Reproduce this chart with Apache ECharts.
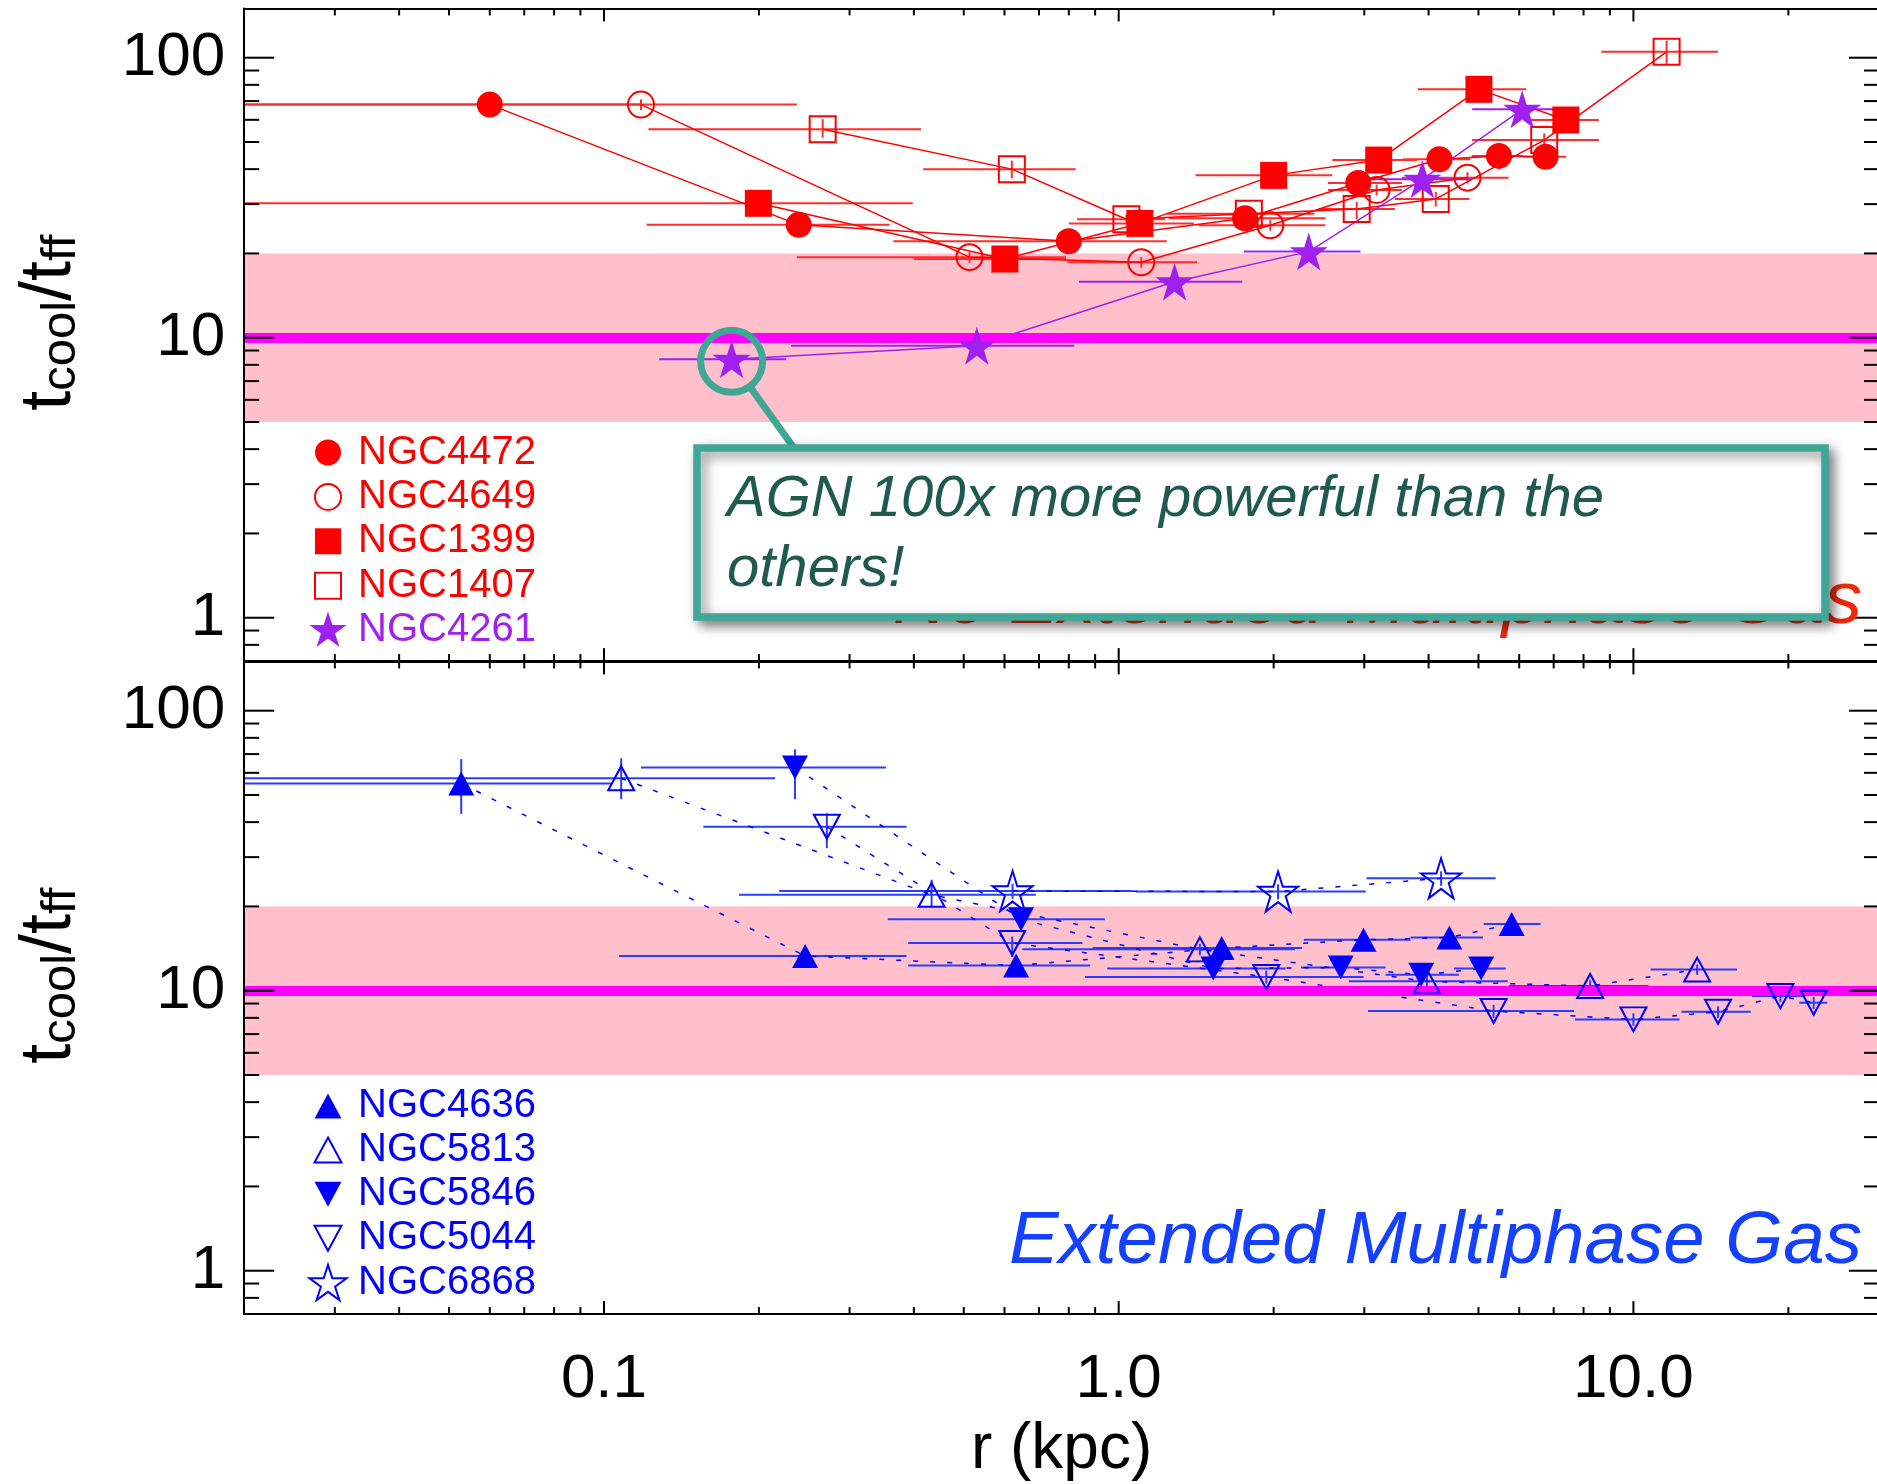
<!DOCTYPE html>
<html>
<head>
<meta charset="utf-8">
<script src="https://cdn.jsdelivr.net/npm/echarts@6/dist/echarts.min.js"></script>
<style>
  html, body { margin: 0; padding: 0; overflow: hidden; background: #fff; }
  #chart { width: 1882px; height: 1484px; }
</style>
</head>
<body>
<div id="chart"></div>
<script>
// Radial profiles: each row is [r (kpc), tcool/tff, r_lo, r_hi, ratio_lo, ratio_hi]

// Galaxies without extended multiphase gas
const NGC4472 = [
  [0.060, 68.0, 0.020, 0.118, 65.5, 70.5],
  [0.239, 25.3, 0.121, 0.359, 24.3, 26.3],
  [0.800, 22.1, 0.365, 1.240, 21.2, 23.0],
  [1.760, 26.7, 1.250, 2.520, 25.6, 27.8],
  [2.920, 35.7, 2.550, 3.550, 34.2, 37.2],
  [4.200, 43.4, 3.570, 4.820, 41.6, 45.2],
  [5.480, 44.6, 4.850, 6.100, 42.8, 46.4],
  [6.750, 44.3, 6.100, 7.400, 42.5, 46.1]
];
const NGC4649 = [
  [0.118, 68.0, 0.020, 0.237, 65.0, 71.0],
  [0.513, 19.4, 0.237, 0.790, 18.5, 20.3],
  [1.106, 18.6, 0.795, 1.420, 17.8, 19.4],
  [1.970, 25.2, 1.430, 2.520, 24.1, 26.3],
  [3.170, 33.7, 2.550, 3.550, 32.2, 35.2],
  [4.760, 37.3, 3.550, 5.720, 35.6, 39.0]
];
const NGC1399 = [
  [0.1995, 30.2, 0.020, 0.398, 29.0, 31.4],
  [0.601, 19.1, 0.400, 0.790, 18.3, 19.9],
  [1.099, 25.6, 0.800, 1.400, 24.6, 26.6],
  [2.000, 38.0, 1.410, 2.600, 36.5, 39.5],
  [3.200, 43.1, 2.600, 3.800, 41.4, 44.8],
  [5.010, 77.1, 3.810, 6.190, 74.0, 80.0],
  [7.390, 59.9, 6.200, 8.570, 57.5, 62.3]
];
const NGC1407 = [
  [0.266, 55.5, 0.122, 0.413, 51.8, 60.3],
  [0.620, 40.0, 0.417, 0.825, 37.1, 42.9],
  [1.035, 26.5, 0.830, 1.230, 25.5, 27.5],
  [1.790, 27.7, 1.240, 2.400, 26.6, 28.8],
  [2.900, 28.8, 2.450, 3.440, 26.5, 30.6],
  [4.130, 31.3, 3.440, 4.800, 29.4, 33.2],
  [6.710, 50.8, 4.860, 8.570, 48.1, 53.7],
  [11.60, 105.0, 8.660, 14.60, 94.0, 115.0]
];
const NGC4261 = [
  [0.177, 8.37, 0.128, 0.226, 8.0, 8.8],
  [0.530, 9.36, 0.231, 0.820, 8.9, 9.8],
  [1.284, 15.85, 0.837, 1.738, 15.1, 16.6],
  [2.340, 20.3, 1.750, 2.950, 19.4, 21.2],
  [3.890, 36.8, 2.960, 4.850, 35.2, 38.4],
  [6.080, 65.4, 4.860, 7.330, 62.5, 68.3]
];

// Galaxies with extended multiphase gas
const NGC4636 = [
  [0.0528, 55.0, 0.020, 0.104, 42.8, 67.2],
  [0.246, 13.3, 0.107, 0.387, 12.8, 13.8],
  [0.632, 12.3, 0.390, 0.880, 11.8, 12.8],
  [1.585, 14.2, 0.890, 2.270, 13.6, 14.8],
  [2.990, 15.2, 2.290, 3.690, 14.6, 15.8],
  [4.390, 15.5, 3.690, 5.100, 14.9, 16.1],
  [5.800, 17.3, 5.120, 6.600, 16.6, 18.0]
];
const NGC5813 = [
  [0.108, 57.4, 0.020, 0.215, 48.3, 67.6],
  [0.433, 22.0, 0.183, 0.690, 19.9, 24.9],
  [1.438, 14.05, 0.650, 2.200, 13.4, 14.7],
  [3.970, 10.8, 2.800, 5.700, 10.3, 11.3],
  [8.240, 10.4, 5.730, 10.70, 9.9, 10.9],
  [13.30, 11.9, 10.80, 15.90, 11.4, 12.4]
];
const NGC5846 = [
  [0.235, 62.7, 0.118, 0.353, 48.3, 72.8],
  [0.646, 18.0, 0.356, 0.940, 17.2, 18.8],
  [1.527, 12.0, 0.950, 2.110, 11.5, 12.5],
  [2.700, 12.1, 2.260, 3.300, 11.6, 12.6],
  [3.870, 11.4, 3.300, 4.580, 10.9, 11.9],
  [5.060, 12.0, 4.480, 5.650, 11.5, 12.5]
];
const NGC5044 = [
  [0.271, 38.5, 0.156, 0.387, 32.3, 43.0],
  [0.621, 14.8, 0.390, 0.850, 13.2, 15.6],
  [1.935, 11.2, 0.860, 2.990, 10.6, 11.8],
  [5.350, 8.46, 3.050, 7.670, 8.0, 8.9],
  [10.00, 7.90, 7.700, 12.30, 7.5, 8.3],
  [14.60, 8.41, 12.40, 16.90, 8.0, 8.8],
  [19.30, 9.57, 17.00, 21.50, 9.1, 10.0],
  [22.40, 9.06, 21.00, 23.80, 8.6, 9.5]
];
const NGC6868 = [
  [0.622, 22.7, 0.219, 1.060, 21.3, 24.1],
  [2.040, 22.6, 1.080, 3.020, 21.2, 24.0],
  [4.230, 25.2, 3.030, 5.400, 23.7, 26.7]
];

// Axis ranges and ticks
const X_MIN = 0.02, X_MAX = 30;
const Y_MIN = 0.7, Y_MAX = 150;
const X_TICK_VALUES = [0.1, 1, 10];
const X_TICK_LABELS = ['0.1', '1.0', '10.0'];
const X_MINOR_TICKS = [0.03, 0.04, 0.05, 0.06, 0.07, 0.08, 0.09,
  0.2, 0.3, 0.4, 0.5, 0.6, 0.7, 0.8, 0.9, 2, 3, 4, 5, 6, 7, 8, 9, 20];
const Y_TICK_VALUES = [1, 10, 100];
const Y_TICK_LABELS = ['1', '10', '100'];
const Y_MINOR_TICKS = [0.8, 0.9, 2, 3, 4, 5, 6, 7, 8, 9, 20, 30, 40, 50, 60, 70, 80, 90];

// Precipitation band and threshold line
const BAND_RANGE = [5, 20];
const THRESHOLD = 10;

const FONT = 'Liberation Sans';
const RED = '#ff0000', RED_ERR = '#ff2d2d';
const PURPLE = '#a020f0';
const BLUE = '#0000ff', BLUE_ERR = '#2a3cff';
const HOLLOW = 'rgba(255,255,255,0)';

// five-pointed star outline, coordinates scaled into a box
function starPoints(cx, cy, R, ratio) {
  const pts = [];
  for (let k = 0; k < 10; k++) {
    const a = (-90 + 36 * k) * Math.PI / 180;
    const rad = k % 2 ? R * ratio : R;
    pts.push((cx + rad * Math.cos(a)).toFixed(2) + ',' + (cy + rad * Math.sin(a)).toFixed(2));
  }
  return 'M' + pts.join(' L') + ' Z';
}
const STAR = 'path://' + starPoints(50, 50, 50, 0.382);

// legend icons share a 40x40 box; the leading moveTo points fix the box size
const ICON_BOX = 'M0,0 M40,40 ';
const ICON = {
  circle: 'path://' + ICON_BOX + 'M33,20 A13,13 0 1 1 7,20 A13,13 0 1 1 33,20 Z',
  square: 'path://' + ICON_BOX + 'M7,7 L33,7 L33,33 L7,33 Z',
  star: 'path://' + ICON_BOX + starPoints(20, 21, 19.5, 0.382),
  up: 'path://' + ICON_BOX + 'M20,7.5 L33.5,32.5 L6.5,32.5 Z',
  down: 'path://' + ICON_BOX + 'M20,32.5 L33.5,7.5 L6.5,7.5 Z'
};

function tickLabel(values, labels) {
  return function (v) {
    for (let i = 0; i < values.length; i++) {
      if (Math.abs(Math.log10(v) - Math.log10(values[i])) < 1e-6) return labels[i];
    }
    return '';
  };
}

function errorBars(color, width) {
  return function (params, api) {
    const x = api.value(0), y = api.value(1);
    const a = api.coord([api.value(2), y]);
    const b = api.coord([api.value(3), y]);
    const c = api.coord([x, api.value(4)]);
    const d = api.coord([x, api.value(5)]);
    const style = { stroke: color, lineWidth: width, fill: null };
    return {
      type: 'group',
      children: [
        { type: 'line', shape: { x1: a[0], y1: a[1], x2: b[0], y2: b[1] }, style: style },
        { type: 'line', shape: { x1: c[0], y1: c[1], x2: d[0], y2: d[1] }, style: style }
      ]
    };
  };
}

// tick marks on all four sides of a panel: [1, 1, value, side, isMajor]
function tickData() {
  const out = [];
  X_TICK_VALUES.forEach(v => { out.push([1, 1, v, 0, 1], [1, 1, v, 1, 1]); });
  X_MINOR_TICKS.forEach(v => { out.push([1, 1, v, 0, 0], [1, 1, v, 1, 0]); });
  Y_TICK_VALUES.forEach(v => { out.push([1, 1, v, 2, 1], [1, 1, v, 3, 1]); });
  Y_MINOR_TICKS.forEach(v => { out.push([1, 1, v, 2, 0], [1, 1, v, 3, 0]); });
  return out;
}
function renderTick(params, api) {
  const v = api.value(2), side = api.value(3), major = api.value(4);
  let p, q;
  if (side === 0) { p = api.coord([v, Y_MIN]); q = [p[0], p[1] - (major ? 13 : 7)]; }
  else if (side === 1) { p = api.coord([v, Y_MAX]); q = [p[0], p[1] + (major ? 13 : 7)]; }
  else if (side === 2) { p = api.coord([X_MIN, v]); q = [p[0] + (major ? 30 : 15), p[1]]; }
  else { p = api.coord([X_MAX, v]); q = [p[0] - (major ? 30 : 15), p[1]]; }
  return { type: 'line', shape: { x1: p[0], y1: p[1], x2: q[0], y2: q[1] },
           style: { stroke: '#000', lineWidth: 2 } };
}

function xAxisDef(gridIndex, position, withLabels) {
  const ax = {
    type: 'log', gridIndex: gridIndex, position: position, min: X_MIN, max: X_MAX,
    logBase: 10, z: 10,
    axisLine: { show: true, onZero: false, lineStyle: { color: '#000', width: 2 } },
    axisTick: { show: false }, splitLine: { show: false }, minorTick: { show: false },
    axisLabel: { show: false }
  };
  if (withLabels) {
    ax.axisLabel = {
      show: true, interval: 0, margin: 35, fontSize: 62, fontFamily: FONT, color: '#000',
      formatter: tickLabel(X_TICK_VALUES, X_TICK_LABELS)
    };
    ax.name = 'r (kpc)';
    ax.nameLocation = 'middle';
    ax.nameGap = 104;
    ax.nameMoveOverlap = false;
    ax.nameTextStyle = { fontSize: 64, fontFamily: FONT, color: '#000' };
  }
  return ax;
}

function yAxisDef(gridIndex, position, withLabels) {
  const ax = {
    type: 'log', gridIndex: gridIndex, position: position, min: Y_MIN, max: Y_MAX,
    logBase: 10, z: 10,
    axisLine: { show: true, onZero: false, lineStyle: { color: '#000', width: 2 } },
    axisTick: { show: false }, splitLine: { show: false }, minorTick: { show: false },
    axisLabel: { show: false }
  };
  if (withLabels) {
    ax.axisLabel = {
      show: true, interval: 0, margin: 19, fontSize: 62, fontFamily: FONT, color: '#000',
      formatter: tickLabel(Y_TICK_VALUES, Y_TICK_LABELS)
    };
    ax.name = '{m|t}{s|cool}{m|/t}{s|ff}';
    ax.nameLocation = 'middle';
    ax.nameRotate = 90;
    ax.nameGap = 158;
    ax.nameMoveOverlap = false;
    ax.nameTextStyle = {
      color: '#000', fontFamily: FONT, padding: [0, 0, 0, 24],
      rich: {
        m: { fontSize: 72, fontFamily: FONT, color: '#000', lineHeight: 72, verticalAlign: 'top' },
        s: { fontSize: 49, fontFamily: FONT, color: '#000', lineHeight: 49,
             padding: [33, 0, 0, 0], verticalAlign: 'bottom' }
      }
    };
  }
  return ax;
}

// one galaxy = error bars + connecting line + markers
function galaxy(name, rows, panel, marker) {
  const axes = { xAxisIndex: panel * 2, yAxisIndex: panel * 2 };
  const pts = rows.map(r => [r[0], r[1]]);
  const dashed = panel === 1;
  return [
    Object.assign({
      type: 'custom', name: name + ' bins', data: rows, encode: { x: 0, y: 1 },
      renderItem: errorBars(marker.err, 2), z: 3, silent: true
    }, axes),
    Object.assign({
      type: 'line', name: name + ' trend', data: pts, symbol: 'none', z: 4, silent: true,
      lineStyle: { color: marker.color, width: 1.5, opacity: 1, type: dashed ? [5, 12] : 'solid' }
    }, axes),
    Object.assign({
      type: 'scatter', name: name, data: pts, symbol: marker.symbol,
      symbolSize: marker.size, symbolRotate: marker.rotate || 0, z: 5, silent: true,
      itemStyle: marker.open
        ? { color: HOLLOW, borderColor: marker.color, borderWidth: 2, opacity: 1 }
        : { color: marker.color, borderWidth: 0, opacity: 1 }
    }, axes)
  ];
}

function bandSeries(panel) {
  const axes = { xAxisIndex: panel * 2, yAxisIndex: panel * 2 };
  return [
    Object.assign({
      type: 'line', name: 'band' + panel, data: [], z: 1, silent: true,
      markArea: {
        silent: true, itemStyle: { color: '#ffc0cb', borderWidth: 0, opacity: 1 },
        data: [[{ coord: [X_MIN, BAND_RANGE[0]] }, { coord: [X_MAX, BAND_RANGE[1]] }]]
      }
    }, axes),
    Object.assign({
      type: 'line', name: 'threshold' + panel, data: [], z: 2, silent: true,
      markLine: {
        silent: true, symbol: ['none', 'none'], label: { show: false },
        lineStyle: { color: '#ff00ff', width: 10, type: 'solid', opacity: 1 },
        data: [{ yAxis: THRESHOLD }]
      }
    }, axes)
  ];
}

function tickSeries(panel) {
  return {
    type: 'custom', name: 'ticks' + panel, xAxisIndex: panel * 2, yAxisIndex: panel * 2,
    data: tickData(), renderItem: renderTick, z: 12, silent: true
  };
}

function legendItem(name, icon, color, open) {
  return {
    name: name, icon: icon,
    itemStyle: open ? { color: HOLLOW, borderColor: color, borderWidth: 2, opacity: 1 }
                    : { color: color, borderWidth: 0, opacity: 1 },
    textStyle: { color: color }
  };
}

const chart = echarts.init(document.getElementById('chart'), null, { renderer: 'canvas' });

const GRID_LEFT = 244.2, GRID_W = 1634.8, PANEL_H = 652.7;

chart.setOption({
  animation: false,
  backgroundColor: '#fff',
  grid: [
    { left: GRID_LEFT, top: 8.4, width: GRID_W, height: PANEL_H, show: false, outerBoundsMode: 'none' },
    { left: GRID_LEFT, top: 661.4, width: GRID_W, height: PANEL_H, show: false, outerBoundsMode: 'none' }
  ],
  xAxis: [
    xAxisDef(0, 'bottom', false), xAxisDef(0, 'top', false),
    xAxisDef(1, 'bottom', true), xAxisDef(1, 'top', false)
  ],
  yAxis: [
    yAxisDef(0, 'left', true), yAxisDef(0, 'right', false),
    yAxisDef(1, 'left', true), yAxisDef(1, 'right', false)
  ],
  legend: [
    {
      orient: 'vertical', left: 307, top: 432.5, itemWidth: 40, itemHeight: 40, itemGap: 3.4,
      selectedMode: false, padding: 0,
      textStyle: { fontSize: 40, fontFamily: FONT, padding: [0, 0, 0, 5] },
      data: [
        legendItem('NGC4472', ICON.circle, RED, false),
        legendItem('NGC4649', ICON.circle, RED, true),
        legendItem('NGC1399', ICON.square, RED, false),
        legendItem('NGC1407', ICON.square, RED, true),
        legendItem('NGC4261', ICON.star, PURPLE, false)
      ]
    },
    {
      orient: 'vertical', left: 307, top: 1086, itemWidth: 40, itemHeight: 40, itemGap: 3.1,
      selectedMode: false, padding: 0,
      textStyle: { fontSize: 40, fontFamily: FONT, padding: [0, 0, 0, 5] },
      data: [
        legendItem('NGC4636', ICON.up, BLUE, false),
        legendItem('NGC5813', ICON.up, BLUE, true),
        legendItem('NGC5846', ICON.down, BLUE, false),
        legendItem('NGC5044', ICON.down, BLUE, true),
        legendItem('NGC6868', ICON.star, BLUE, true)
      ]
    }
  ],
  series: [].concat(
    bandSeries(0), bandSeries(1),
    galaxy('NGC4472', NGC4472, 0, { symbol: 'circle', size: 26, color: RED, err: RED_ERR }),
    galaxy('NGC4649', NGC4649, 0, { symbol: 'circle', size: 26, color: RED, err: RED_ERR, open: true }),
    galaxy('NGC1399', NGC1399, 0, { symbol: 'rect', size: 27, color: RED, err: RED_ERR }),
    galaxy('NGC1407', NGC1407, 0, { symbol: 'rect', size: 26, color: RED, err: RED_ERR, open: true }),
    galaxy('NGC4261', NGC4261, 0, { symbol: STAR, size: 38, color: PURPLE, err: PURPLE }),
    galaxy('NGC4636', NGC4636, 1, { symbol: 'triangle', size: [26, 24], color: BLUE, err: BLUE_ERR }),
    galaxy('NGC5813', NGC5813, 1, { symbol: 'triangle', size: [26, 24], color: BLUE, err: BLUE_ERR, open: true }),
    galaxy('NGC5846', NGC5846, 1, { symbol: 'triangle', size: [26, 24], rotate: 180, color: BLUE, err: BLUE_ERR }),
    galaxy('NGC5044', NGC5044, 1, { symbol: 'triangle', size: [26, 24], rotate: 180, color: BLUE, err: BLUE_ERR, open: true }),
    galaxy('NGC6868', NGC6868, 1, { symbol: STAR, size: 40, color: BLUE, err: BLUE_ERR, open: true }),
    [tickSeries(0), tickSeries(1)]
  )
});

// callout ring around the innermost NGC4261 point, with its note box
const ring = chart.convertToPixel({ xAxisIndex: 0, yAxisIndex: 0 }, [NGC4261[0][0], NGC4261[0][1]]);
const RING_R = 31;
const BOX = { x: 697, y: 448, width: 1128, height: 169 };
const anchor = [794, BOX.y];
const dx = anchor[0] - ring[0], dy = anchor[1] - (ring[1] + 2);
const len = Math.sqrt(dx * dx + dy * dy);
const TEAL = '#3fa796';

chart.setOption({
  graphic: [
    {
      type: 'text', z: 90, silent: true,
      style: {
        text: 'No Extended Multiphase Gas', x: 1862, y: 602, align: 'right', verticalAlign: 'middle',
        font: 'italic 74.5px "Liberation Sans"', fill: '#f0280a'
      }
    },
    {
      type: 'text', z: 90, silent: true,
      style: {
        text: 'Extended Multiphase Gas', x: 1862, y: 1242, align: 'right', verticalAlign: 'middle',
        font: 'italic 74.5px "Liberation Sans"', fill: '#1440ff'
      }
    },
    {
      type: 'line', z: 100, silent: true,
      shape: { x1: ring[0] + RING_R * dx / len, y1: ring[1] + 2 + RING_R * dy / len, x2: anchor[0], y2: anchor[1] },
      style: { stroke: TEAL, lineWidth: 7 }
    },
    {
      type: 'circle', z: 100, silent: true,
      shape: { cx: ring[0], cy: ring[1] + 2, r: RING_R },
      style: { stroke: TEAL, lineWidth: 7, fill: null }
    },
    {
      type: 'rect', z: 100, silent: true,
      shape: BOX,
      style: {
        fill: '#fff', stroke: TEAL, lineWidth: 7.5,
        shadowBlur: 12, shadowOffsetX: 5, shadowOffsetY: 5, shadowColor: 'rgba(0,0,0,0.45)'
      }
    },
    {
      type: 'text', z: 101, silent: true,
      style: {
        text: 'AGN 100x more powerful than the\nothers!', x: 727, y: 465,
        verticalAlign: 'top', lineHeight: 70,
        font: 'italic 58px "Liberation Sans"', fill: '#1f5a4c'
      }
    }
  ]
});
</script>
</body>
</html>
